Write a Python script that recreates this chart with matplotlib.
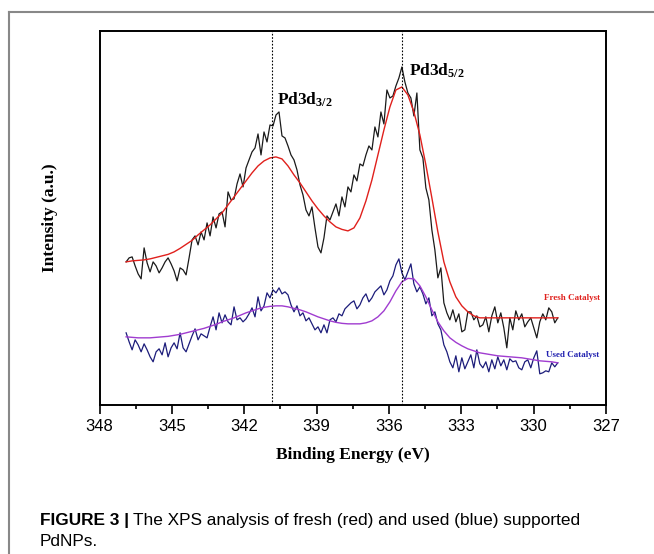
import numpy as np
import matplotlib
matplotlib.use("Agg")
from matplotlib import pyplot as plt
from matplotlib.lines import Line2D

plt.rcParams['mathtext.fontset'] = 'custom'
plt.rcParams['mathtext.bf'] = 'Liberation Serif:bold'
plt.rcParams['mathtext.rm'] = 'Liberation Serif:bold'

# binding energy grids (eV)
energy_raw = np.linspace(346.9, 329.0, 145)
energy_fit = np.linspace(346.9, 329.0, 73)

fresh_raw = [
    143, 147, 148, 139, 131, 126, 157, 142, 133, 143,
    139, 132, 137, 143, 147, 141, 134, 124, 137, 135,
    130, 147, 165, 169, 160, 173, 165, 182, 169, 188,
    177, 191, 193, 178, 213, 205, 206, 221, 231, 218,
    237, 245, 253, 257, 271, 250, 273, 263, 280, 279,
    290, 293, 269, 267, 259, 250, 245, 235, 220, 210,
    195, 189, 198, 177, 158, 152, 167, 189, 185, 193,
    201, 189, 208, 198, 218, 213, 230, 224, 241, 239,
    250, 259, 255, 278, 268, 293, 281, 315, 307, 309,
    319, 327, 338, 323, 312, 307, 289, 312, 255, 247,
    217, 205, 175, 155, 127, 137, 102, 92, 85, 95,
    83, 91, 73, 75, 93, 93, 85, 89, 78, 80,
    88, 73, 89, 98, 82, 92, 77, 57, 87, 75,
    94, 85, 91, 78, 83, 87, 77, 67, 83, 91,
    85, 97, 93, 82, 87,
]

used_raw = [
    72, 63, 55, 65, 60, 53, 61, 55, 48, 43,
    53, 56, 50, 62, 48, 57, 62, 56, 72, 57,
    53, 61, 69, 76, 65, 71, 69, 67, 78, 88,
    75, 92, 82, 90, 83, 80, 98, 85, 87, 83,
    86, 91, 97, 88, 108, 94, 99, 112, 107, 115,
    112, 117, 111, 113, 110, 100, 93, 99, 89, 92,
    84, 87, 81, 75, 78, 72, 80, 72, 85, 87,
    83, 91, 89, 96, 99, 102, 104, 96, 100, 107,
    111, 103, 107, 113, 116, 119, 110, 115, 124, 129,
    140, 146, 132, 125, 133, 141, 121, 113, 118, 111,
    101, 107, 89, 93, 81, 75, 60, 53, 43, 37,
    49, 33, 47, 36, 43, 50, 37, 55, 41, 37,
    43, 33, 45, 36, 48, 39, 45, 35, 46, 43,
    44, 37, 35, 43, 45, 37, 47, 54, 31, 32,
    34, 33, 42, 38, 42,
]

fresh_fit = [
    143, 144, 144.5, 145, 146, 147.5, 149, 150.5, 153, 156.5,
    160.5, 164.5, 170, 175, 180, 186, 192, 200, 208, 216,
    224, 232, 239, 244, 247, 248, 246, 239, 230, 222,
    213, 204, 196, 189, 183, 178, 175.5, 174, 177, 187,
    204, 225, 250, 275, 298, 315, 318, 310, 293, 270,
    240, 207, 173, 143, 123, 108, 99, 93, 89, 87,
    87, 87, 87, 87, 87, 87, 87, 87, 87, 87,
    87, 87, 87,
]

used_fit = [
    68, 67.5, 67, 67, 67, 67.5, 68, 68.5, 69.5, 70.5,
    72, 73.5, 75, 76.5, 78.5, 80.5, 83, 85, 87, 89.5,
    92, 94, 96, 97.5, 98.5, 99, 99, 98, 96.5, 95,
    93, 90.5, 88, 86, 84, 82.5, 81.5, 81, 81, 81,
    82, 84, 88, 94, 103, 114, 123, 126.5, 126, 119,
    108, 95, 83, 74, 67, 62.5, 59, 56, 54, 52,
    51, 50, 49, 48.5, 48, 47.5, 47, 46, 45, 44,
    43.5, 43, 42,
]

peak_positions = [340.84, 335.47]
xticks = [348, 345, 342, 339, 336, 333, 330, 327]

fig = plt.figure(figsize=(6.54, 5.54), dpi=100)
ax = fig.add_axes([99.6 / 654, 1 - 404.8 / 554, (606 - 99.6) / 654, (404.8 - 31) / 554])

ax.plot(energy_raw, fresh_raw, color='#1a1a1a', lw=0.9)
ax.plot(energy_fit, fresh_fit, color='#e0201c', lw=1.0)
ax.plot(energy_raw, used_raw, color='#1c1c7a', lw=0.9)
ax.plot(energy_fit, used_fit, color='#a03cd0', lw=1.0)

for p in peak_positions:
    ax.axvline(p, color='black', lw=0.8, ls=(0, (1.5, 1.5)))

ax.text(340.64, 300, r'$\mathbf{Pd3d_{3/2}}$', fontsize=12.5, ha='left', va='baseline')
ax.text(335.17, 329, r'$\mathbf{Pd3d_{5/2}}$', fontsize=12.5, ha='left', va='baseline')
ax.text(329.57, 107, 'Fresh Catalyst', color='#e0201c', fontsize=6.5,
        family='Liberation Serif', weight='bold', ha='left', va='center')
ax.text(329.49, 50, 'Used Catalyst', color='#2020b0', fontsize=6.5,
        family='Liberation Serif', weight='bold', ha='left', va='center')

ax.set_xlim(348, 327)
ax.set_ylim(0, 374)
ax.set_xticks(xticks)
ax.set_xticks(np.arange(346.5, 327, -3), minor=True)
ax.set_yticks([])
ax.tick_params(axis='x', which='major', direction='out', length=6.5, width=1.2,
               labelsize=12, pad=4)
ax.tick_params(axis='x', which='minor', direction='out', length=3, width=1.2)
for lab in ax.get_xticklabels():
    lab.set_family('Liberation Sans')
for s in ax.spines.values():
    s.set_linewidth(1.4)

ax.set_xlabel('Binding Energy (eV)', family='Liberation Serif', weight='bold',
              fontsize=12.5, labelpad=9)
ax.set_ylabel('Intensity (a.u.)', family='Liberation Serif', weight='bold',
              fontsize=12.5, labelpad=30)

# outer frame of the figure panel
fig.add_artist(Line2D([9 / 654, 1], [1 - 12 / 554, 1 - 12 / 554], color='#888888', lw=1.5))
fig.add_artist(Line2D([9 / 654, 9 / 654], [0, 1 - 12 / 554], color='#888888', lw=1.5))

# caption
cap_font = ['Liberation Sans', 'DejaVu Sans']
t1 = fig.text(40 / 654, 1 - 521 / 554, 'FIGURE 3 |', family=cap_font, weight='bold',
              fontsize=12.4, va='center', ha='left')
fig.canvas.draw()
bb = t1.get_window_extent(fig.canvas.get_renderer())
fig.text(bb.x1 / 654 + 4 / 654, 1 - 521 / 554,
         'The XPS analysis of fresh (red) and used (blue) supported',
         family=cap_font, fontsize=12.4, va='center', ha='left')
fig.text(40 / 654, 1 - 541 / 554, 'PdNPs.', family=cap_font, fontsize=12.4,
         va='center', ha='left')

fig.savefig('out.png', dpi=100)
